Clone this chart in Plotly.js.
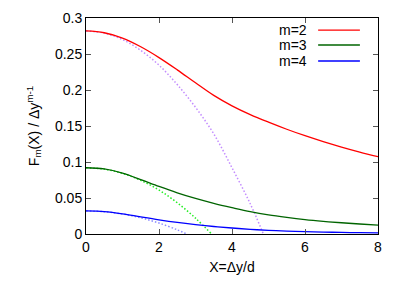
<!DOCTYPE html>
<html>
<head>
<meta charset="utf-8">
<script src="https://cdn.plot.ly/plotly-3.0.1.min.js"></script>
<style>html,body{margin:0;padding:0;background:#fff;}#chart{width:407px;height:284px;}</style>
</head>
<body>
<div id="chart"></div>
<script>
// Solid curves (full function)
const xSolid = [0, 0.5, 1, 1.5, 2, 2.5, 3, 3.5, 4, 4.5, 5, 5.5, 6, 6.5, 7, 7.5, 8];
const m2Solid = [0.282, 0.2795, 0.272, 0.260, 0.245, 0.228, 0.210, 0.1925, 0.178, 0.1658, 0.1553, 0.1455, 0.1365, 0.1283, 0.1208, 0.1138, 0.1073];
const m3Solid = [0.092, 0.0903, 0.0845, 0.0755, 0.066, 0.0572, 0.0494, 0.0426, 0.0366, 0.031, 0.0265, 0.0230, 0.0200, 0.0176, 0.0156, 0.0139, 0.0124];
const m4Solid = [0.032, 0.0311, 0.0280, 0.0237, 0.0196, 0.0160, 0.0130, 0.0104, 0.0083, 0.0065, 0.0051, 0.0041, 0.0033, 0.0027, 0.0022, 0.0018, 0.0015];

// Dotted curves (small-X approximations)
const xM2Dot = [0, 0.5, 1, 1.5, 2, 2.5, 3, 3.5, 4, 4.5, 4.86];
const m2Dot  = [0.282, 0.279, 0.270, 0.255, 0.2345, 0.2075, 0.176, 0.139, 0.092, 0.042, 0.0];
const xM3Dot = [0, 0.5, 1, 1.5, 2, 2.5, 3, 3.44];
const m3Dot  = [0.092, 0.090, 0.0842, 0.0745, 0.061, 0.0434, 0.022, 0.0];
const xM4Dot = [0, 0.5, 1, 1.5, 2, 2.5, 2.76];
const m4Dot  = [0.032, 0.031, 0.0278, 0.0225, 0.0152, 0.0058, 0.0];

const legendLabels = ['m=2', 'm=3', 'm=4'];
const xTicks = [0, 2, 4, 6, 8];
const yTicks = [0, 0.05, 0.1, 0.15, 0.2, 0.25, 0.3];
const yTickText = ['0', '0.05', '0.1', '0.15', '0.2', '0.25', '0.3'];

const solidColors = ['#ff0000', '#006400', '#0000ff'];
const dotColors = ['#c38cff', '#22ee22', '#8c8cff'];

const traces = [
  {x: xM2Dot, y: m2Dot, mode: 'lines', line: {color: dotColors[0], width: 1.5, dash: '1.5px,2px', shape: 'spline'}, showlegend: false},
  {x: xM3Dot, y: m3Dot, mode: 'lines', line: {color: dotColors[1], width: 1.5, dash: '1.5px,2px', shape: 'spline'}, showlegend: false},
  {x: xM4Dot, y: m4Dot, mode: 'lines', line: {color: dotColors[2], width: 1.5, dash: '1.5px,2px', shape: 'spline'}, showlegend: false},
  {x: xSolid, y: m2Solid, mode: 'lines', name: legendLabels[0], line: {color: solidColors[0], width: 1.3, shape: 'spline'}, showlegend: false},
  {x: xSolid, y: m3Solid, mode: 'lines', name: legendLabels[1], line: {color: solidColors[1], width: 1.3, shape: 'spline'}, showlegend: false},
  {x: xSolid, y: m4Solid, mode: 'lines', name: legendLabels[2], line: {color: solidColors[2], width: 1.3, shape: 'spline'}, showlegend: false}
];

// Legend (gnuplot style: text then line sample, right side)
const annotations = [];
const shapes = [];
const rowY = [0.944, 0.875, 0.801];
for (let i = 0; i < 3; i++) {
  annotations.push({xref: 'paper', yref: 'paper', x: 0.762, y: rowY[i], xanchor: 'right', yanchor: 'middle',
    text: legendLabels[i], showarrow: false, font: {family: 'Liberation Sans, Arial, sans-serif', size: 14, color: '#000'}});
  shapes.push({type: 'line', xref: 'paper', yref: 'paper', x0: 0.795, x1: 0.938, y0: rowY[i], y1: rowY[i],
    line: {color: solidColors[i], width: 1.3}});
}

const layout = {
  width: 407, height: 284,
  margin: {l: 86, r: 29, t: 18, b: 50, pad: 0},
  paper_bgcolor: '#fff', plot_bgcolor: '#fff',
  font: {family: 'Liberation Sans, Arial, sans-serif', size: 14, color: '#000'},
  showlegend: false,
  xaxis: {
    range: [0, 8], tickvals: xTicks, ticktext: xTicks.map(String),
    ticks: 'inside', ticklen: 5, tickcolor: '#555', tickwidth: 1,
    showline: true, linecolor: '#000', linewidth: 1, mirror: 'ticks',
    showgrid: false, zeroline: false,
    title: {text: 'X=Δy/d', font: {size: 14}, standoff: 8},
    tickfont: {size: 14}
  },
  yaxis: {
    range: [0, 0.3], tickvals: yTicks, ticktext: yTickText,
    ticks: 'inside', ticklen: 5, tickcolor: '#555', tickwidth: 1,
    showline: true, linecolor: '#000', linewidth: 1, mirror: 'ticks',
    showgrid: false, zeroline: false,
    title: {text: 'F<sub>m</sub>(X) / Δy<sup>m-1</sup>', font: {size: 14}, standoff: 12},
    tickfont: {size: 14}
  },
  annotations: annotations,
  shapes: shapes
};

Plotly.newPlot('chart', traces, layout, {staticPlot: true, displayModeBar: false});
</script>
</body>
</html>
